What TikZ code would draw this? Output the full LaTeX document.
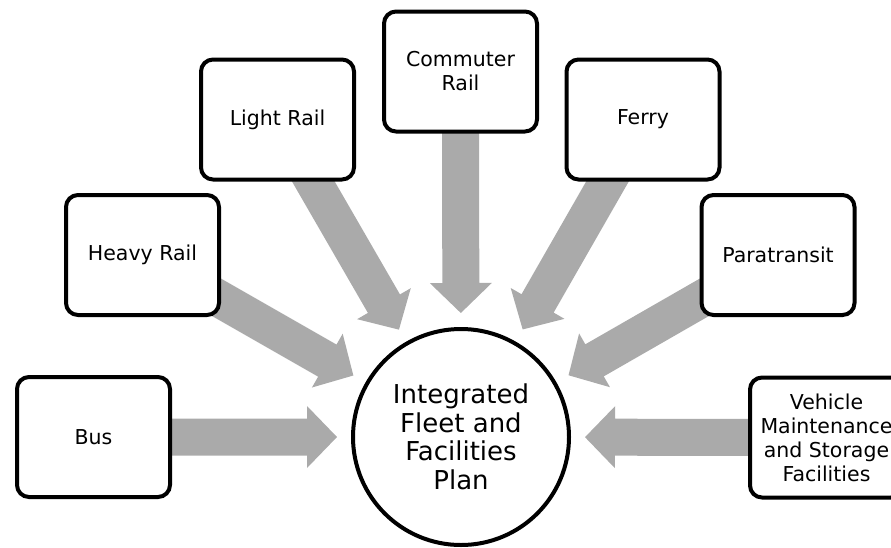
\documentclass[tikz,border=0pt]{standalone}
\usepackage{fontspec}
\setmainfont{DejaVu Sans}
\usetikzlibrary{calc,backgrounds}
\definecolor{arrowgray}{RGB}{170,170,170}
\tikzset{
  srcbox/.style={draw=black, line width=4pt, rounded corners=12pt, fill=white,
    minimum width=153pt, minimum height=120pt, align=center, inner sep=0pt,
    font=\fontsize{20.5}{24}\selectfont},
  hub/.style={draw=black, line width=4pt, circle, fill=white, minimum size=216pt,
    align=center, inner sep=0pt, font=\fontsize{26}{28.5}\selectfont},
}
\begin{document}
\begin{tikzpicture}[x=1pt,y=-1pt]
\useasboundingbox (0,0) rectangle (891,547);
\clip (0,0) rectangle (891,547);
\node[hub] (plan) at (461,437) {Integrated\\Fleet and\\Facilities\\Plan};
\node[srcbox] (bus) at (93.5,437) {Bus};
\node[srcbox] (heavy) at (142.5,255) {Heavy Rail};
\node[srcbox] (light) at (277.5,119.5) {Light Rail};
\node[srcbox] (comm) at (460.5,71.5) {Commuter\\Rail};
\node[srcbox] (ferry) at (643,119.5) {Ferry};
\node[srcbox] (para) at (778,255) {Paratransit};
\node[srcbox] (veh) at (826.5,437.5) {Vehicle\\Maintenance\\and Storage\\Facilities};
\begin{scope}[on background layer]
\foreach \b in {bus,heavy,light,comm,ferry,para,veh} {
  \coordinate (T-\b) at ($(plan.center)!124pt!(\b.center)$);
  \coordinate (B-\b) at ($(T-\b)!30pt!(\b.center)$);
  \fill[arrowgray]
    ($(\b.center)!18.5pt!90:(T-\b)$) --
    ($(B-\b)!18.5pt!-90:(\b.center)$) --
    ($(B-\b)!31pt!-90:(\b.center)$) --
    (T-\b) --
    ($(B-\b)!31pt!90:(\b.center)$) --
    ($(B-\b)!18.5pt!90:(\b.center)$) --
    ($(\b.center)!18.5pt!-90:(T-\b)$) -- cycle;
}
\end{scope}
\end{tikzpicture}
\end{document}
